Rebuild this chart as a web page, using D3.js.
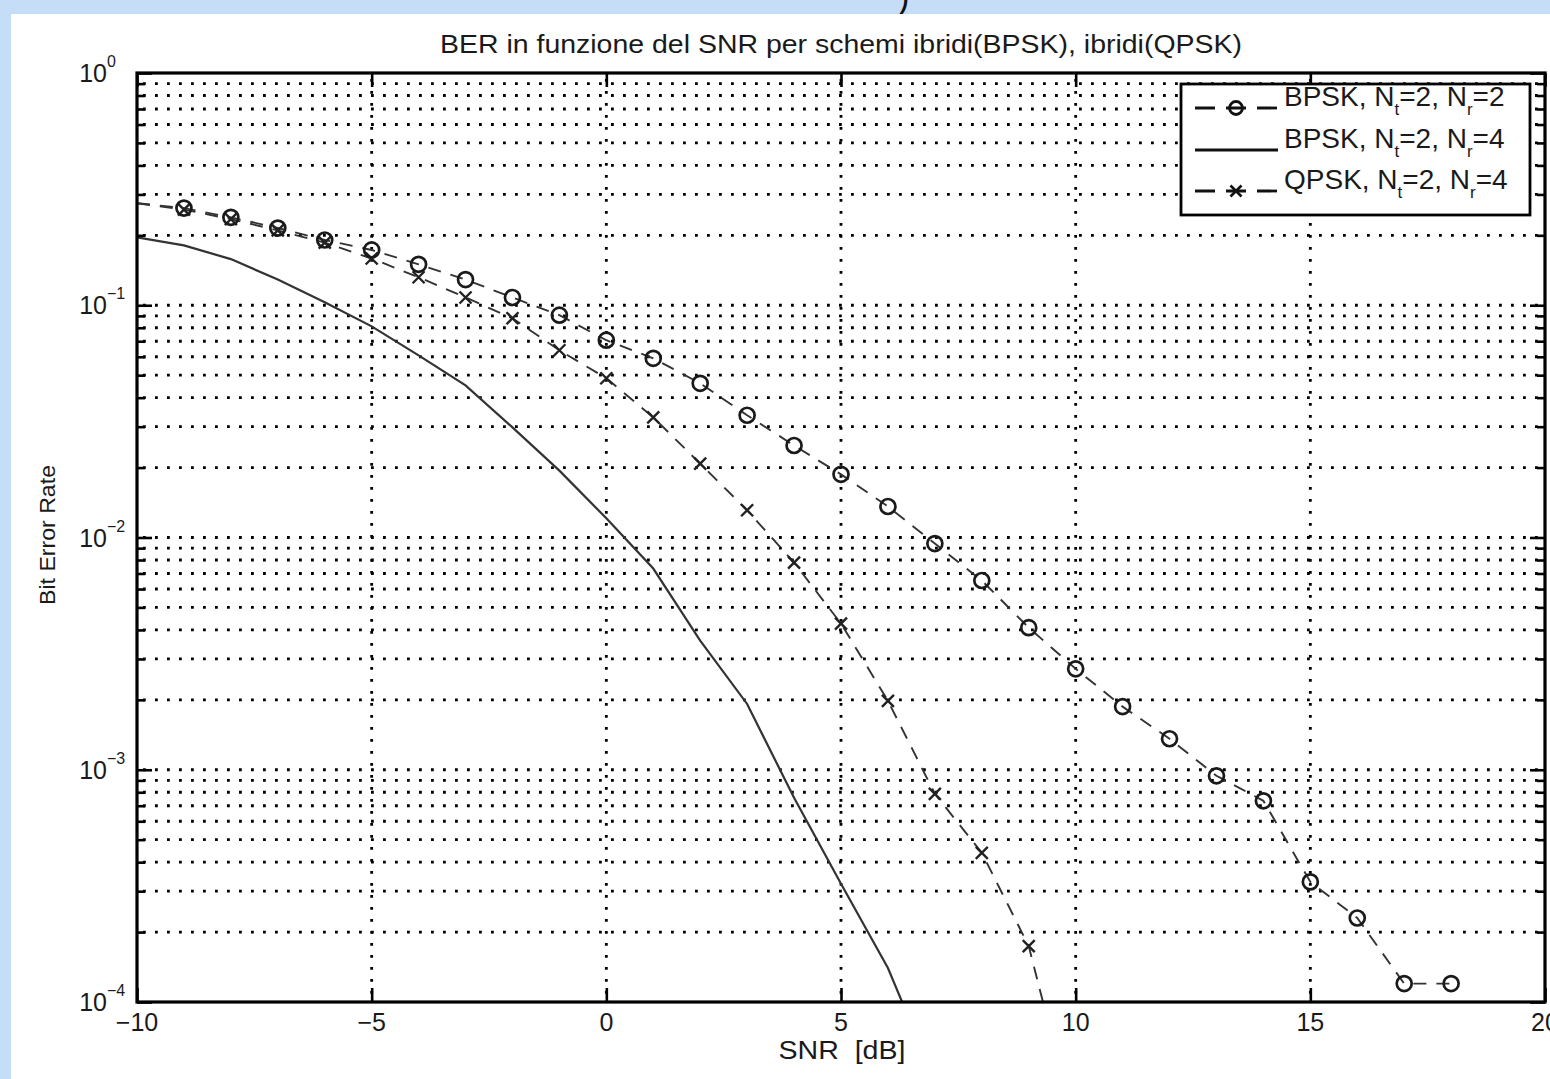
<!DOCTYPE html>
<html><head><meta charset="utf-8">
<script src="https://cdn.jsdelivr.net/npm/d3@7"></script>
<style>html,body{margin:0;padding:0;background:#c6ddf7;overflow:hidden}</style>
</head><body>
<svg id="c" width="1550" height="1079" xmlns="http://www.w3.org/2000/svg"></svg>
<script>
// ---------- data ----------
const titleText = "BER in funzione del SNR per schemi ibridi(BPSK), ibridi(QPSK)";
const xLabelText = "SNR\u00a0 [dB]";
const yLabelText = "Bit Error Rate";
const topFragment = ")";

const xTicks = [-10, -5, 0, 5, 10, 15, 20];
const xTickLabels = ["\u221210", "\u22125", "0", "5", "10", "15", "20"];
const yMajor = [1, 1e-1, 1e-2, 1e-3, 1e-4];
const yTickBase = "10";
const yTickExp = ["0", "\u22121", "\u22122", "\u22123", "\u22124"];
const yMinorMult = [2, 3, 4, 5, 6, 7, 8, 9];

// BPSK, Nt=2, Nr=2 (dashed, circles)
const snrBpsk22 = [-10,-9,-8,-7,-6,-5,-4,-3,-2,-1,0,1,2,3,4,5,6,7,8,9,10,11,12,13,14,15,16,17,18];
const berBpsk22 = [0.275,0.262,0.239,0.215,0.191,0.173,0.150,0.129,0.108,0.0906,0.0707,0.0591,0.0461,0.0336,0.0249,0.0187,0.0136,0.00942,0.00653,0.00409,0.00272,0.00187,0.00136,0.000942,0.000735,0.000329,0.000230,0.000120,0.000120];

// BPSK, Nt=2, Nr=4 (solid)
const snrBpsk24 = [-10,-9,-8,-7,-6,-5,-4,-3,-2,-1,0,1,2,3,4,5,6,7];
const berBpsk24 = [0.196,0.181,0.158,0.129,0.103,0.0811,0.0608,0.0452,0.0298,0.0194,0.0121,0.00735,0.0036,0.00192,0.000757,0.000323,0.00014,0.000046];

// QPSK, Nt=2, Nr=4 (dashed, x)
const snrQpsk24 = [-10,-9,-8,-7,-6,-5,-4,-3,-2,-1,0,1,2,3,4,5,6,7,8,9,10];
const berQpsk24 = [0.275,0.258,0.235,0.21,0.186,0.159,0.132,0.108,0.0879,0.064,0.0485,0.0329,0.0208,0.0131,0.0078,0.00426,0.00198,0.000788,0.000439,0.000174,0.000028];

const legendLabels = [
  {main: "BPSK, N", s1: "t", mid: "=2, N", s2: "r", end: "=2"},
  {main: "BPSK, N", s1: "t", mid: "=2, N", s2: "r", end: "=4"},
  {main: "QPSK, N", s1: "t", mid: "=2, N", s2: "r", end: "=4"}
];

// ---------- drawing ----------
const W = 1550, H = 1079;
const M = {l: 137, r: 1545, t: 73, b: 1002};
const FONT = "'Liberation Sans', Arial, Helvetica, sans-serif";
const svg = d3.select("#c");

const x = d3.scaleLinear().domain([-10, 20]).range([M.l, M.r]);
const y = d3.scaleLog().domain([1e-4, 1]).range([M.b, M.t]);

svg.append("rect").attr("width", W).attr("height", H).attr("fill", "#c6ddf7");
svg.append("text").attr("x", 898).attr("y", 12).attr("font-family", FONT)
  .attr("font-size", 34).attr("font-style", "italic").attr("fill", "#111").text(topFragment);
svg.append("rect").attr("x", 11).attr("y", 14).attr("width", W - 11).attr("height", H - 14).attr("fill", "#fff");

// grid
const minorVals = [];
for (let k = -4; k <= -1; k++) for (const m of yMinorMult) minorVals.push(m * Math.pow(10, k));
const gridYVals = minorVals.concat([1e-1, 1e-2, 1e-3]);
const grid = svg.append("g").attr("stroke", "#000").attr("stroke-width", 2.8)
  .attr("stroke-dasharray", "2.8,9.2").attr("fill", "none");
grid.selectAll("line.h").data(gridYVals).join("line").attr("class", "h")
  .attr("x1", M.l + 6).attr("x2", M.r).attr("y1", d => y(d)).attr("y2", d => y(d));
grid.selectAll("line.v").data(xTicks.slice(1, -1)).join("line").attr("class", "v")
  .attr("x1", d => x(d)).attr("x2", d => x(d)).attr("y1", M.t + 6).attr("y2", M.b);

// clip
svg.append("clipPath").attr("id", "pa").append("rect")
  .attr("x", M.l).attr("y", M.t).attr("width", M.r - M.l).attr("height", M.b - M.t);
const plot = svg.append("g").attr("clip-path", "url(#pa)");

const line = d3.line().x(d => x(d[0])).y(d => y(d[1]));
const s22 = d3.zip(snrBpsk22, berBpsk22);
const s24 = d3.zip(snrBpsk24, berBpsk24);
const q24 = d3.zip(snrQpsk24, berQpsk24);

plot.append("path").datum(s24).attr("d", line).attr("fill", "none")
  .attr("stroke", "#333").attr("stroke-width", 2.2);
plot.append("path").datum(q24).attr("d", line).attr("fill", "none")
  .attr("stroke", "#333").attr("stroke-width", 1.9).attr("stroke-dasharray", "13,10");
plot.append("path").datum(s22).attr("d", line).attr("fill", "none")
  .attr("stroke", "#333").attr("stroke-width", 1.9).attr("stroke-dasharray", "13,10");

// markers (first point at the axis carries no marker)
const xm = 6;
plot.selectAll("path.xm").data(q24.filter(d => d[0] > -10 && d[1] >= 1e-4)).join("path")
  .attr("class", "xm")
  .attr("d", d => { const cx = x(d[0]), cy = y(d[1]);
    return `M${cx-xm},${cy-xm}L${cx+xm},${cy+xm}M${cx-xm},${cy+xm}L${cx+xm},${cy-xm}`; })
  .attr("stroke", "#222").attr("stroke-width", 2.4).attr("fill", "none");
plot.selectAll("circle.cm").data(s22.filter(d => d[0] > -10)).join("circle")
  .attr("class", "cm").attr("cx", d => x(d[0])).attr("cy", d => y(d[1])).attr("r", 7.5)
  .attr("fill", "none").attr("stroke", "#1a1a1a").attr("stroke-width", 2.7);

// axes / ticks
function styleAxis(g) { g.select(".domain").remove(); g.selectAll("line").attr("stroke", "#000").attr("stroke-width", 2.6); }
svg.append("g").attr("transform", `translate(${M.l},0)`)
  .call(d3.axisRight(y).tickValues(minorVals).tickSize(8).tickFormat("")).call(styleAxis);
svg.append("g").attr("transform", `translate(${M.l},0)`)
  .call(d3.axisRight(y).tickValues(yMajor).tickSize(15).tickFormat("")).call(styleAxis);
svg.append("g").attr("transform", `translate(${M.r},0)`)
  .call(d3.axisLeft(y).tickValues(minorVals).tickSize(8).tickFormat("")).call(styleAxis);
svg.append("g").attr("transform", `translate(${M.r},0)`)
  .call(d3.axisLeft(y).tickValues(yMajor).tickSize(15).tickFormat("")).call(styleAxis);
svg.append("g").attr("transform", `translate(0,${M.b})`)
  .call(d3.axisTop(x).tickValues(xTicks).tickSize(14).tickFormat("")).call(styleAxis);
svg.append("g").attr("transform", `translate(0,${M.t})`)
  .call(d3.axisBottom(x).tickValues(xTicks).tickSize(14).tickFormat("")).call(styleAxis);

svg.append("rect").attr("x", M.l).attr("y", M.t).attr("width", M.r - M.l).attr("height", M.b - M.t)
  .attr("fill", "none").attr("stroke", "#000").attr("stroke-width", 3.2);

// tick labels
svg.append("g").selectAll("text").data(xTicks).join("text")
  .attr("x", d => x(d)).attr("y", 1031).attr("text-anchor", "middle")
  .attr("font-family", FONT).attr("font-size", 25).attr("fill", "#1a1a1a")
  .text((d, i) => xTickLabels[i]);

const yl = svg.append("g").attr("font-family", FONT).attr("fill", "#1a1a1a");
yMajor.forEach((v, i) => {
  yl.append("text").attr("x", 107).attr("y", y(v) + 9).attr("font-size", 25)
    .attr("text-anchor", "end").text(yTickBase);
  yl.append("text").attr("x", 107).attr("y", y(v) - 6).attr("font-size", 16).text(yTickExp[i]);
});

// titles
svg.append("text").attr("x", (M.l + M.r) / 2).attr("y", 53).attr("text-anchor", "middle")
  .attr("font-family", FONT).attr("font-size", 26).attr("fill", "#1a1a1a")
  .attr("textLength", 802).attr("lengthAdjust", "spacingAndGlyphs").text(titleText);
svg.append("text").attr("x", 842).attr("y", 1059).attr("text-anchor", "middle")
  .attr("font-family", FONT).attr("font-size", 26).attr("fill", "#1a1a1a")
  .attr("textLength", 127).attr("lengthAdjust", "spacingAndGlyphs").text(xLabelText);
svg.append("text").attr("transform", "translate(55,535) rotate(-90)").attr("text-anchor", "middle")
  .attr("font-family", FONT).attr("font-size", 22).attr("fill", "#1a1a1a")
  .attr("textLength", 140).attr("lengthAdjust", "spacingAndGlyphs").text(yLabelText);

// legend
const lg = svg.append("g");
lg.append("rect").attr("x", 1181).attr("y", 84).attr("width", 349).attr("height", 131)
  .attr("fill", "#fff").attr("stroke", "#000").attr("stroke-width", 2.8);
const rowY = [108, 150, 191];
const styles = [
  {dash: "20,11", marker: "circle"},
  {dash: null, marker: null},
  {dash: "20,11", marker: "x"}
];
legendLabels.forEach((lab, i) => {
  const ly = rowY[i];
  const ln = lg.append("line").attr("x1", 1195).attr("x2", 1278).attr("y1", ly).attr("y2", ly)
    .attr("stroke", "#111").attr("stroke-width", 2.8);
  if (styles[i].dash) ln.attr("stroke-dasharray", styles[i].dash);
  if (styles[i].marker === "circle") {
    lg.append("circle").attr("cx", 1236).attr("cy", ly).attr("r", 6.5).attr("fill", "none")
      .attr("stroke", "#111").attr("stroke-width", 2.8);
  } else if (styles[i].marker === "x") {
    const cx = 1236, s = 5.5;
    lg.append("path").attr("d", `M${cx-s},${ly-s}L${cx+s},${ly+s}M${cx-s},${ly+s}L${cx+s},${ly-s}`)
      .attr("stroke", "#111").attr("stroke-width", 2.6);
  }
  const t = lg.append("text").attr("x", 1284).attr("y", ly - 2).attr("font-family", FONT)
    .attr("font-size", 28).attr("fill", "#1a1a1a");
  t.append("tspan").text(lab.main);
  t.append("tspan").attr("font-size", 17).attr("dy", 9).text(lab.s1);
  t.append("tspan").attr("dy", -9).text(lab.mid);
  t.append("tspan").attr("font-size", 17).attr("dy", 9).text(lab.s2);
  t.append("tspan").attr("dy", -9).text(lab.end);
});
</script>
</body></html>
